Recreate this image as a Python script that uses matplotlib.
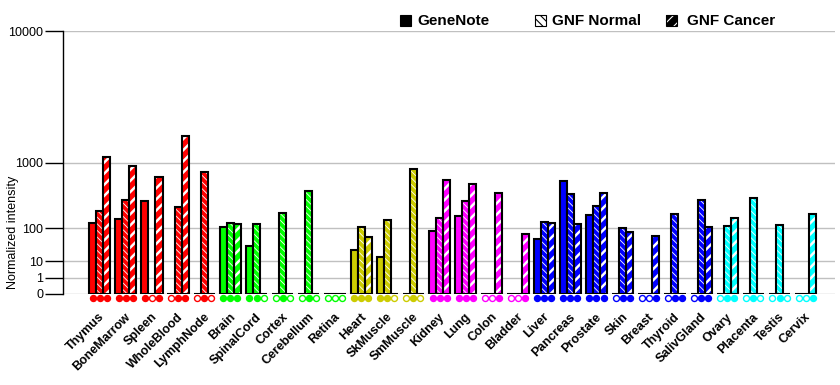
import numpy as np
import matplotlib
matplotlib.use("Agg")
import matplotlib.pyplot as plt
from matplotlib.patches import Rectangle

plt.rcParams['font.family'] = ['Liberation Sans', 'DejaVu Sans']

tissues = ["Thymus", "BoneMarrow", "Spleen", "WholeBlood", "LymphNode",
           "Brain", "SpinalCord", "Cortex", "Cerebellum", "Retina",
           "Heart", "SkMuscle", "SmMuscle",
           "Kidney", "Lung", "Colon", "Bladder",
           "Liver", "Pancreas", "Prostate", "Skin", "Breast", "Thyroid", "SalivGland",
           "Ovary", "Placenta", "Testis", "Cervix"]

genenote   = [129, 155, 320, 0, 0, 106, 35, 0, 0, 0, 26, 15, 0, 87, 176, 0, 0,
              55, 604, 184, 0, 0, 0, 0, 0, 0, 0, 0]
gnf_normal = [219, 327, 0, 254, 780, 129, 123, 200, 443, 0, 106, 148, 845, 162, 316, 0, 0,
              137, 406, 263, 103, 0, 194, 331, 112, 355, 117, 0]
gnf_cancer = [1146, 920, 678, 1849, 0, 123, 0, 0, 0, 0, 62, 0, 0, 622, 552, 416, 74,
              131, 123, 416, 84, 66, 0, 106, 164, 0, 0, 194]

# detection calls under each group: GeneNote, GNF Normal, GNF Cancer
detected = ["111", "111", "101", "011", "010", "111", "110", "010", "010", "000",
            "111", "110", "010", "111", "111", "001", "001",
            "111", "111", "111", "011", "001", "011", "011",
            "011", "010", "010", "001"]

system_colors = ["#FF0000"] * 5 + ["#00FF00"] * 5 + ["#CCCC00"] * 3 + ["#FF00FF"] * 4 \
    + ["#0000FF"] * 7 + ["#00FFFF"] * 4

yticks = [0, 1, 10, 100, 1000, 10000]

P = np.log10(2)


def fwd(v):
    return np.power(np.clip(v, 0, None), P)


def inv(u):
    return np.power(np.clip(u, 0, None), 1 / P)


fig = plt.figure(figsize=(8.4, 3.85), dpi=100)
ax = fig.add_axes([63 / 840, 1 - 294 / 385, (835 - 63) / 840, (294 - 31) / 385])
ax.set_yscale('function', functions=(fwd, inv))

x = np.arange(len(tissues))
w = 0.27
series = [(genenote, None, -w, 1.0), (gnf_normal, '\\\\\\\\\\', 0, 0.6), (gnf_cancer, '///', w, 1.8)]
for vals, hatch, off, hlw in series:
    if hatch is None:
        ax.bar(x + off, vals, w, color=system_colors, edgecolor='black', linewidth=1.5, zorder=3)
    else:
        with plt.rc_context({'hatch.color': 'white', 'hatch.linewidth': hlw}):
            ax.bar(x + off, vals, w, color=system_colors, edgecolor='white', hatch=hatch,
                   linewidth=0, zorder=3)
        ax.bar(x + off, vals, w, fill=False, edgecolor='black', linewidth=1.5, zorder=4)

# detection markers
my = (294 - 298) / 263
for i, calls in enumerate(detected):
    for k, c in enumerate(calls):
        ax.plot(i + (k - 1) * w, my, 'o', ms=4.3, transform=ax.get_xaxis_transform(),
                mfc=system_colors[i] if c == '1' else 'white', mec=system_colors[i],
                mew=1.0, clip_on=False, zorder=5)

ax.set_xlim(-1.4, 28.12)
ax.set_ylim(0, 10000)
ax.set_yticks(yticks)
ax.set_yticklabels([str(t) for t in yticks], fontsize=9)
ax.tick_params(axis='y', length=13, width=1, pad=1)
ax.yaxis.grid(True, color='#C0C0C0', linewidth=1)
ax.set_axisbelow(True)
ax.set_xticks([])
for s in ['top', 'right', 'bottom']:
    ax.spines[s].set_visible(False)
ax.spines['left'].set_linewidth(1)

ly = (294 - 311) / 263
for i, name in enumerate(tissues):
    ax.text(i - 0.04, ly, name, rotation=45, rotation_mode='anchor', ha='right', va='top',
            fontsize=9, fontweight='bold', transform=ax.get_xaxis_transform())

fig.text(13 / 840, 1 - 232 / 385, "Normalized intensity", rotation=90, fontsize=9,
         ha='center', va='center')

# legend
legend_items = [(400, 417, "GeneNote", 'black', None, None),
                (535, 552, "GNF Normal", 'white', 'black', '\\\\\\\\'),
                (666, 687, "GNF Cancer", 'black', 'white', '///')]
for sx, tx, label, fc, hc, hatch in legend_items:
    if hatch is None:
        fig.add_artist(Rectangle((sx / 840, 1 - 26 / 385), 11 / 840, 11 / 385,
                                 transform=fig.transFigure, facecolor=fc, edgecolor='black',
                                 linewidth=0.8))
    else:
        with plt.rc_context({'hatch.color': hc, 'hatch.linewidth': 0.8}):
            fig.add_artist(Rectangle((sx / 840, 1 - 26 / 385), 11 / 840, 11 / 385,
                                     transform=fig.transFigure, facecolor=fc, edgecolor=hc,
                                     hatch=hatch, linewidth=0))
        fig.add_artist(Rectangle((sx / 840, 1 - 26 / 385), 11 / 840, 11 / 385,
                                 transform=fig.transFigure, fill=False, edgecolor='black',
                                 linewidth=0.8))
    fig.text(tx / 840, 1 - 21 / 385, label, fontsize=11, fontweight='bold', va='center')

fig.savefig("out.png", dpi=100)
